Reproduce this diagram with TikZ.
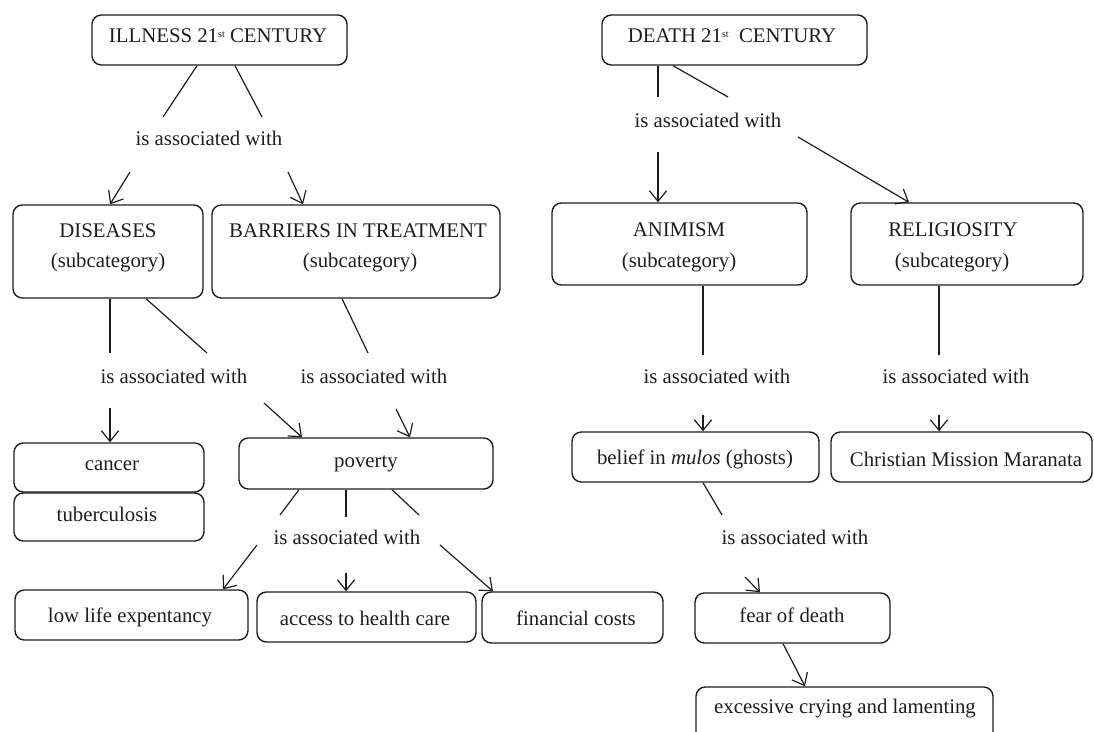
\documentclass[tikz,border=0pt]{standalone}
\usepackage{fontspec}
\setmainfont{Liberation Serif}
\usetikzlibrary{arrows.meta,fit}
\definecolor{ink}{HTML}{1E1E1E}
\newcommand\mainfs{\fontsize{15.6pt}{24pt}\selectfont}
\newcommand\supst{\raisebox{0.55ex}{\fontsize{7.5pt}{7.5pt}\selectfont st}}
\begin{document}
\begin{tikzpicture}[x=0.75pt,y=-0.75pt,
  box/.style={draw=ink, line width=1.05pt, rounded corners=7pt, inner sep=0pt},
  txt/.style={inner sep=0pt, font=\mainfs, text=ink},
  ln/.style={draw=ink, line width=0.9pt},
  arr/.style={ln, -{Straight Barb[length=8pt,width=13pt,line width=0.9pt]}}]
\clip (0,0) rectangle (1094,731);
\fill[white] (0,0) rectangle (1094,731);

% ---------- boxes ----------
\node[box, fit={(92,15)(347,65)}] (ill) {};
\node[box, fit={(602,15)(867,65)}] (death) {};
\node[box, fit={(13,205)(203,298)}] (dis) {};
\node[box, fit={(212,205)(500,298)}] (bar) {};
\node[box, fit={(552,203)(807,285)}] (ani) {};
\node[box, fit={(851,203)(1083,285)}] (rel) {};
\node[box, fit={(14,443)(204,492)}] (can) {};
\node[box, fit={(14,493)(204,541)}] (tb) {};
\node[box, fit={(239,438)(493,489)}] (pov) {};
\node[box, fit={(572,432)(819,482)}] (bel) {};
\node[box, fit={(831,432)(1092,482)}] (chr) {};
\node[box, fit={(15,590)(248,640)}] (low) {};
\node[box, fit={(257,592)(476,642)}] (acc) {};
\node[box, fit={(482,592)(663,643)}] (fin) {};
\node[box, fit={(695,593)(890,643)}] (fear) {};
\node[box, fit={(696,687)(993,770)}] (exc) {};

% ---------- box texts ----------
\node[txt] (illt) at (218,36) {ILLNESS 21\supst\ CENTURY};
\node[txt] (deatht) at (732,36) {DEATH 21\supst\ \ CENTURY};
\node[txt] (dist1) at (108,231) {DISEASES};
\node[txt] (dist2) at (108,263) {(subcategory)};
\node[txt] (bart1) at (358,231) {BARRIERS IN TREATMENT};
\node[txt] (bart2) at (360,263) {(subcategory)};
\node[txt] (anit1) at (679,230) {ANIMISM};
\node[txt] (anit2) at (679,263) {(subcategory)};
\node[txt] (relt1) at (953,230) {RELIGIOSITY};
\node[txt] (relt2) at (952,263) {(subcategory)};
\node[txt] (cant) at (112,466) {cancer};
\node[txt] (tbt) at (107,514) {tuberculosis};
\node[txt] (povt) at (366,464) {poverty};
\node[txt] (belt) at (695,459) {belief in \textit{mulos} (ghosts)};
\node[txt] (chrt) at (966,459) {Christian Mission Maranata};
\node[txt] (lowt) at (130,617) {low life expentancy};
\node[txt] (acct) at (365,618) {access to health care};
\node[txt] (fint) at (576,618) {financial costs};
\node[txt] (feart) at (792,615) {fear of death};
\node[txt] (exct) at (845,709) {excessive crying and lamenting};

% ---------- link labels ----------
\node[txt] (L1) at (209,138) {is associated with};
\node[txt] (L2) at (708,120) {is associated with};
\node[txt] (L3) at (174,376) {is associated with};
\node[txt] (L4) at (374,376) {is associated with};
\node[txt] (L5) at (717,376) {is associated with};
\node[txt] (L6) at (956,376) {is associated with};
\node[txt] (L7) at (347,537) {is associated with};
\node[txt] (L8) at (795,537) {is associated with};

% ---------- free ends ----------
\coordinate (a1) at (163,117);
\coordinate (a2) at (262,117);
\coordinate (a3) at (130,172);
\coordinate (a4) at (288,172);
\coordinate (b1) at (658,97);
\coordinate (b2) at (728,97);
\coordinate (b3) at (658,152);
\coordinate (b4) at (798,137);
\coordinate (c1) at (110,353);
\coordinate (c2) at (207,353);
\coordinate (c3) at (368,353);
\coordinate (c4) at (110,408);
\coordinate (c5) at (264,403);
\coordinate (c6) at (396,409);
\coordinate (d1) at (703,355);
\coordinate (d2) at (939,355);
\coordinate (d3) at (703,415);
\coordinate (d4) at (939,415);
\coordinate (e1) at (280,515);
\coordinate (e2) at (346,517);
\coordinate (e3) at (419,515);
\coordinate (e4) at (257,545);
\coordinate (e5) at (346,573);
\coordinate (e6) at (440,545);
\coordinate (f1) at (722,515);
\coordinate (f2) at (745,577);

% ---------- connectors ----------
\draw[ln] (197,0 |- ill.south) -- (a1);
\draw[ln] (235,0 |- ill.south) -- (a2);
\draw[arr] (a3) -- (110,0 |- dis.north);
\draw[arr] (a4) -- (303,0 |- bar.north);

\draw[ln] (658,0 |- death.south) -- (b1);
\draw[ln] (673,0 |- death.south) -- (b2);
\draw[arr] (b3) -- (658,0 |- ani.north);
\draw[arr] (b4) -- (909,0 |- rel.north);

\draw[ln] (110,0 |- dis.south) -- (c1);
\draw[ln] (146,0 |- dis.south) -- (c2);
\draw[ln] (342,0 |- bar.south) -- (c3);
\draw[arr] (c4) -- (110,0 |- can.north);
\draw[arr] (c5) -- (302,0 |- pov.north);
\draw[arr] (c6) -- (410,0 |- pov.north);

\draw[ln] (703,0 |- ani.south) -- (d1);
\draw[ln] (939,0 |- rel.south) -- (d2);
\draw[arr] (d3) -- (703,0 |- bel.north);
\draw[arr] (d4) -- (939,0 |- chr.north);

\draw[ln] (299,0 |- pov.south) -- (e1);
\draw[ln] (346,0 |- pov.south) -- (e2);
\draw[ln] (392,0 |- pov.south) -- (e3);
\draw[arr] (e4) -- (223,0 |- low.north);
\draw[arr] (e5) -- (346,0 |- acc.north);
\draw[arr] (e6) -- (493,0 |- fin.north);

\draw[ln] (703,0 |- bel.south) -- (f1);
\draw[arr] (f2) -- (760,0 |- fear.north);
\draw[arr] (783,0 |- fear.south) -- (805,0 |- exc.north);
\end{tikzpicture}
\end{document}
